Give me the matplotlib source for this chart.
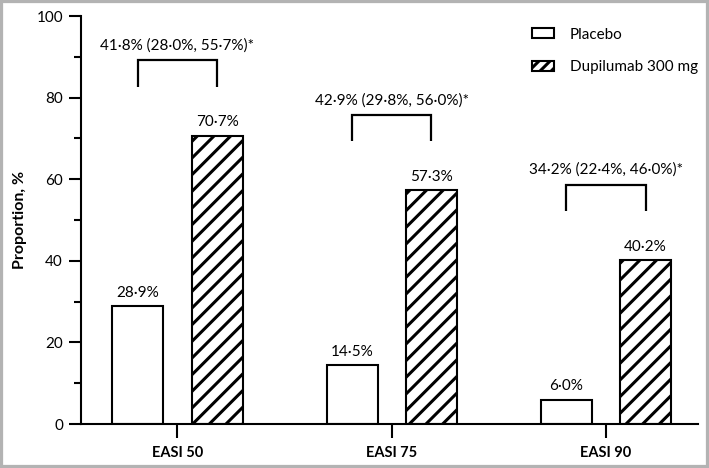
import matplotlib.pyplot as plt
import numpy as np
from matplotlib.patches import Patch, Rectangle
from matplotlib.ticker import MultipleLocator

# ----------DATA----------
categories = ["EASI 50", "EASI 75", "EASI 90"]
placebo = [28.9, 14.5, 6.0]
dupilumab = [70.7, 57.3, 40.2]
differences = [
    "41\u00b78% (28\u00b70%, 55\u00b77%)*",
    "42\u00b79% (29\u00b78%, 56\u00b70%)*",
    "34\u00b72% (22\u00b74%, 46\u00b70%)*",
]
series_names = ["Placebo", "Dupilumab 300 mg"]


def fmt(v):
    return f"{v:.1f}%".replace(".", "\u00b7")


plt.rcParams["font.family"] = ["Lato", "DejaVu Sans"]
plt.rcParams["hatch.linewidth"] = 2.2
plt.rcParams["hatch.color"] = "black"

fig = plt.figure(figsize=(7.09, 4.68), dpi=100)
ax = fig.add_axes([81 / 709, 44 / 468, 617 / 709, 408 / 468])

x = np.arange(len(categories))
width = 0.238
offset = 0.185

ax.bar(x - offset, placebo, width, color="white", edgecolor="black", linewidth=1.5)
ax.bar(x + offset, dupilumab, width, color="white", edgecolor="black",
       linewidth=1.5, hatch="//")

# value labels over bars
for i in range(len(categories)):
    ax.text(x[i] - offset, placebo[i] + 1.5, fmt(placebo[i]), ha="center",
            va="bottom", fontsize=11)
    ax.text(x[i] + offset, dupilumab[i] + 1.5, fmt(dupilumab[i]), ha="center",
            va="bottom", fontsize=11)

    # bracket with difference
    top = dupilumab[i] + 18.5
    ax.plot([x[i] - offset, x[i] - offset, x[i] + offset, x[i] + offset],
            [top - 6.5, top, top, top - 6.5], color="black", lw=1.6,
            solid_capstyle="butt", solid_joinstyle="miter")
    ax.text(x[i], top + 3.6, differences[i], ha="center", va="center",
            fontsize=11)

ax.set_xlim(-0.45, 2.43)
ax.set_ylim(0, 100)
ax.set_xticks(x)
ax.set_xticklabels(categories, fontweight="bold", fontsize=10.5)
ax.set_ylabel("Proportion, %", fontweight="bold", fontsize=11.5, labelpad=7)

ax.yaxis.set_major_locator(MultipleLocator(20))
ax.yaxis.set_minor_locator(MultipleLocator(10))
ax.tick_params(axis="y", which="major", length=9, width=1.5, labelsize=11, pad=4)
ax.tick_params(axis="y", which="minor", length=5, width=1.5)
ax.tick_params(axis="x", length=10, width=1.5, pad=6)

for side in ["top", "right"]:
    ax.spines[side].set_visible(False)
for side in ["left", "bottom"]:
    ax.spines[side].set_linewidth(1.5)

handles = [
    Patch(facecolor="white", edgecolor="black", linewidth=1.5, label=series_names[0]),
    Patch(facecolor="white", edgecolor="black", linewidth=1.5, hatch="///",
          label=series_names[1]),
]
ax.legend(handles=handles, loc="upper right", bbox_to_anchor=(1.022, 1.005),
          frameon=False, fontsize=11, handlelength=1.5, handleheight=0.6,
          labelspacing=1.2, handletextpad=1.0)

# grey frame around the figure
fig.patches.append(Rectangle((0, 0), 1, 1, transform=fig.transFigure,
                             fill=False, edgecolor="#b3b3b3", linewidth=4.5))

fig.savefig("out.png", dpi=100)
